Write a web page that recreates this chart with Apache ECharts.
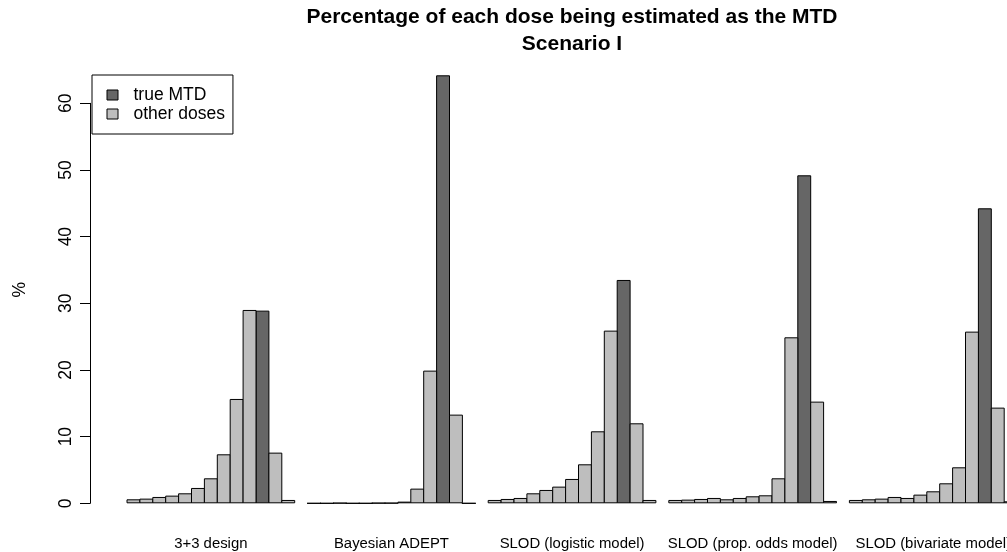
<!DOCTYPE html>
<html>
<head>
<meta charset="utf-8">
<script src="https://cdn.jsdelivr.net/npm/echarts@6/dist/echarts.min.js"></script>
<style>
  html, body { margin: 0; padding: 0; background: #ffffff; overflow: hidden; }
  #chart { width: 1007px; height: 552px; }
</style>
</head>
<body>
<div id="chart"></div>
<script>
// Designs compared (one group of bars each)
const designs = ['3+3 design', 'Bayesian ADEPT', 'SLOD (logistic model)', 'SLOD (prop. odds model)', 'SLOD (bivariate model)'];

// Percentage of runs selecting each of the 13 doses as the MTD
const pct33        = [0.6, 0.7, 0.95, 1.15, 1.5, 2.3, 3.75, 7.35, 15.65, 29.0, 28.9, 7.6, 0.5];
const pctAdept     = [0, 0, 0.05, 0, 0, 0.05, 0.05, 0.25, 2.2, 19.9, 64.2, 13.3, 0];
const pctLogistic  = [0.5, 0.65, 0.8, 1.5, 2.0, 2.5, 3.65, 5.85, 10.8, 25.9, 33.5, 12.0, 0.5];
const pctPropOdds  = [0.5, 0.55, 0.65, 0.8, 0.6, 0.8, 1.05, 1.2, 3.75, 24.9, 49.2, 15.25, 0.35];
const pctBivariate = [0.5, 0.6, 0.7, 0.95, 0.8, 1.3, 1.8, 3.0, 5.4, 25.75, 44.25, 14.35, 0.3];

// Dose index (0-based) of the true MTD in Scenario I
const trueMtdIndex = 10;

const seriesNames = ['true MTD', 'other doses'];
const yTickStep = 10;
const yMax = 60;

const allPct = [pct33, pctAdept, pctLogistic, pctPropOdds, pctBivariate];
const nDoses = pct33.length;

// Build category slots: [gap, dose1 .. dose13] per design
const categories = [];
const mtdData = [];
const otherData = [];
allPct.forEach((vals, g) => {
  categories.push('');
  mtdData.push('-');
  otherData.push('-');
  vals.forEach((v, j) => {
    categories.push(j === Math.floor(nDoses / 2) ? designs[g] : '');
    if (j === trueMtdIndex) { mtdData.push(v); otherData.push('-'); }
    else { mtdData.push('-'); otherData.push(v); }
  });
});

// Geometry of the plotting region
const slotW = 12.9;
const firstBarLeft = 127;
const gridLeft = firstBarLeft - slotW;
const gridWidth = categories.length * slotW;
const yAxisX = 90;
const zeroY = 503.3;
const topY = 103.3;
// ECharts insets a bar by half its border on each side; widen by one
// border so that neighbouring bars share a single outline
const barBorder = 1;
const barW = slotW + barBorder;

const chart = echarts.init(document.getElementById('chart'), null, { renderer: 'canvas' });

const font = 'Liberation Sans, Arial, Helvetica, sans-serif';

chart.setOption({
  backgroundColor: '#ffffff',
  animation: false,
  textStyle: { fontFamily: font, color: '#000' },
  title: {
    text: 'Percentage of each dose being estimated as the MTD\nScenario I',
    left: 572,
    top: 4,
    padding: 0,
    textAlign: 'center',
    textStyle: { fontFamily: font, fontSize: 21, fontWeight: 'bold', color: '#000', lineHeight: 27 }
  },
  legend: {
    data: seriesNames,
    orient: 'vertical',
    left: 92,
    top: 75,
    padding: [10.5, 8, 10.5, 14.5],
    itemGap: 0,
    itemWidth: 11,
    itemHeight: 10,
    icon: 'rect',
    selectedMode: false,
    borderColor: '#000',
    borderWidth: 1,
    borderRadius: 0,
    itemStyle: { borderColor: '#000', borderWidth: 1 },
    textStyle: { fontFamily: font, fontSize: 17.5, color: '#000', lineHeight: 19, padding: [0, 0, 0, 10.5] }
  },
  grid: {
    left: gridLeft,
    width: gridWidth,
    top: topY,
    bottom: 552 - zeroY,
    containLabel: false,
    outerBoundsMode: 'none'
  },
  xAxis: {
    type: 'category',
    data: categories,
    axisLine: { show: false },
    axisTick: { show: false },
    splitLine: { show: false },
    axisLabel: {
      interval: 0,
      margin: 32,
      fontFamily: font,
      fontSize: 14.9,
      lineHeight: 17,
      color: '#000'
    }
  },
  yAxis: {
    type: 'value',
    min: 0,
    max: yMax,
    interval: yTickStep,
    offset: gridLeft - yAxisX,
    name: '%',
    nameLocation: 'middle',
    nameRotate: 90,
    nameGap: 61,
    nameTextStyle: { fontFamily: font, fontSize: 17.5, color: '#000', padding: [0, 0, 0, 27] },
    axisLine: { show: true, lineStyle: { color: '#000', width: 1 } },
    axisTick: { show: true, length: 10, lineStyle: { color: '#000', width: 1 } },
    splitLine: { show: false },
    axisLabel: { rotate: 90, margin: 15, fontFamily: font, fontSize: 17.5, color: '#000' }
  },
  series: [
    {
      name: seriesNames[0],
      type: 'bar',
      data: mtdData,
      barWidth: barW,
      barGap: '-100%',
      barCategoryGap: '0%',
      clip: false,
      itemStyle: { color: '#666666', borderColor: '#000', borderWidth: barBorder }
    },
    {
      name: seriesNames[1],
      type: 'bar',
      data: otherData,
      barWidth: barW,
      barGap: '-100%',
      barCategoryGap: '0%',
      clip: false,
      itemStyle: { color: '#BEBEBE', borderColor: '#000', borderWidth: barBorder }
    }
  ]
});
</script>
</body>
</html>
